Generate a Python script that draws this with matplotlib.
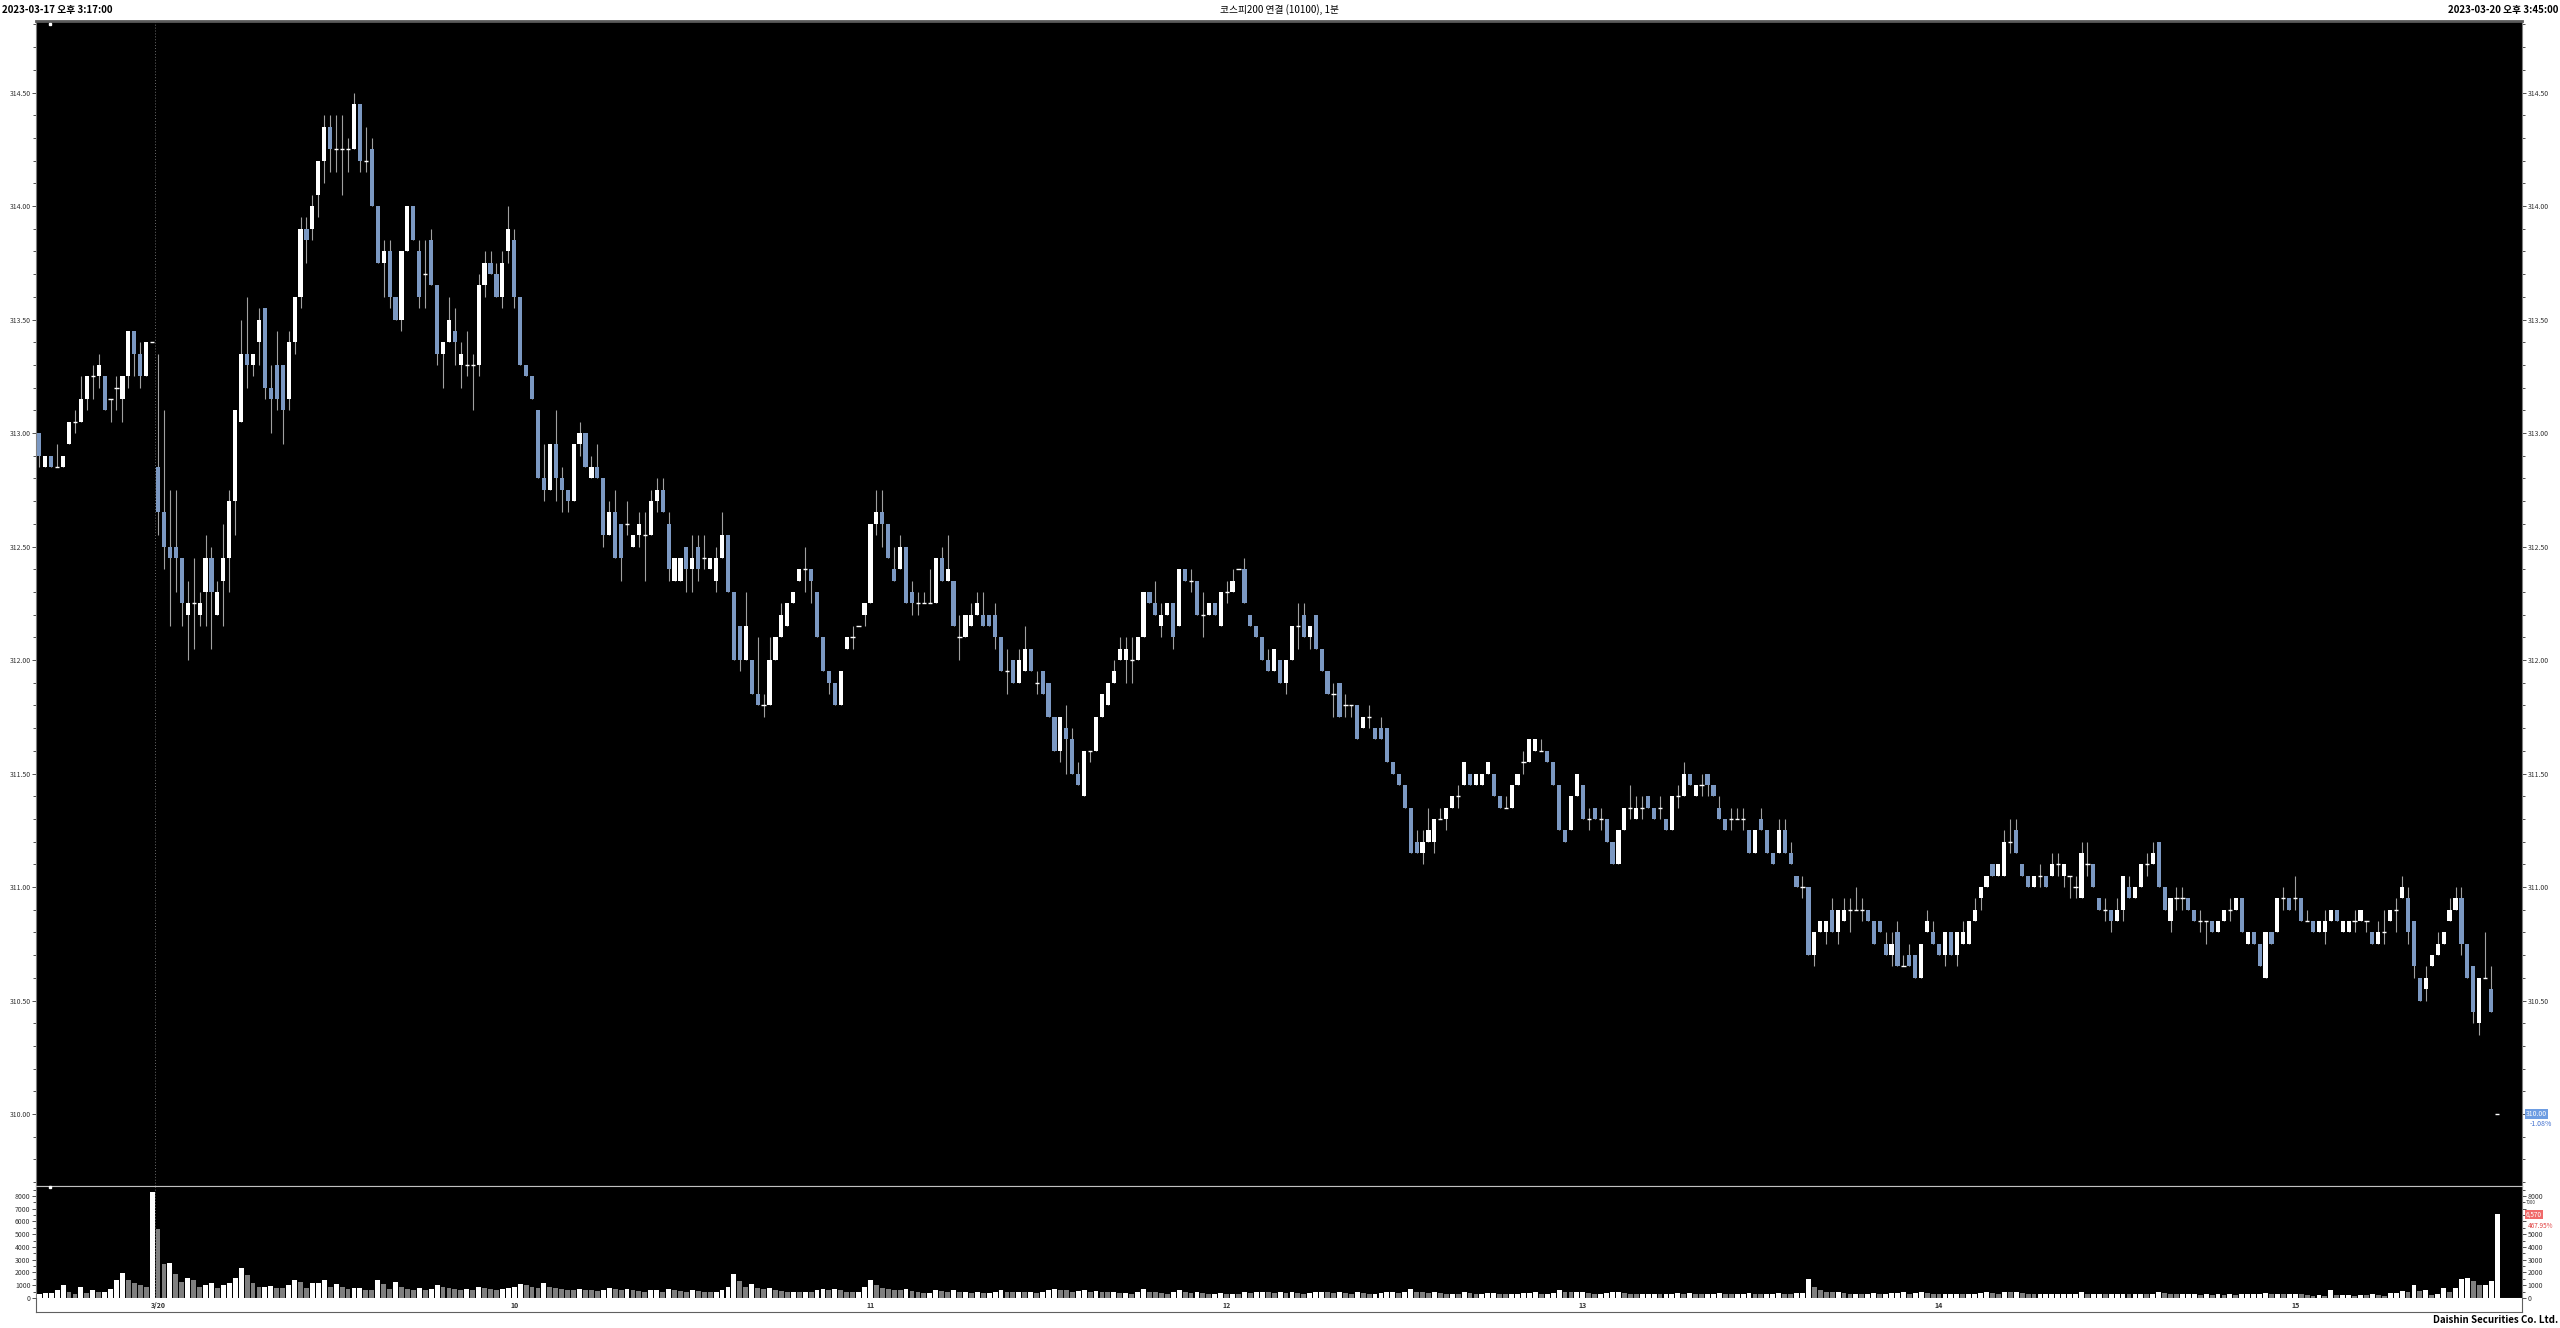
#!/usr/bin/env python3

import matplotlib
matplotlib.use('Agg')
import matplotlib.pyplot as plt
import matplotlib.transforms as mtransforms
from matplotlib.ticker import MultipleLocator, FormatStrFormatter

plt.rcParams['font.family'] = ['Noto Sans CJK KR', 'DejaVu Sans']

# header / footer text
left_stamp = '2023-03-17 오후 3:17:00'
right_stamp = '2023-03-20 오후 3:45:00'
title = '코스피200 연결 (10100), 1분'
footer = 'Daishin Securities Co. Ltd.'

# date strip labels (candle index of the label, text)
date_ticks = [20, 80, 140, 200, 260, 320, 380]
date_labels = ['3/20', '10', '11', '12', '13', '14', '15']

# 1-minute bars, 3/17 15:17 .. 3/20 15:45
opens = [
    313.00, 312.85, 312.90, 312.85, 312.85, 312.95, 313.05, 313.05, 313.15, 313.25,
    313.25, 313.25, 313.15, 313.20, 313.15, 313.25, 313.45, 313.35, 313.25, 313.40,
    312.85, 312.65, 312.50, 312.50, 312.45, 312.20, 312.25, 312.20, 312.30, 312.45,
    312.20, 312.35, 312.45, 312.70, 313.05, 313.35, 313.30, 313.40, 313.55, 313.20,
    313.30, 313.30, 313.15, 313.40, 313.60, 313.90, 313.90, 314.05, 314.20, 314.35,
    314.25, 314.25, 314.25, 314.25, 314.45, 314.20, 314.25, 314.00, 313.75, 313.80,
    313.60, 313.50, 313.80, 314.00, 313.80, 313.70, 313.85, 313.65, 313.35, 313.40,
    313.45, 313.30, 313.30, 313.30, 313.30, 313.65, 313.75, 313.70, 313.60, 313.80,
    313.85, 313.60, 313.30, 313.25, 313.10, 312.80, 312.75, 312.95, 312.80, 312.75,
    312.70, 312.95, 313.00, 312.80, 312.85, 312.80, 312.55, 312.65, 312.60, 312.60,
    312.50, 312.55, 312.55, 312.55, 312.70, 312.75, 312.60, 312.35, 312.35, 312.50,
    312.40, 312.50, 312.45, 312.40, 312.35, 312.45, 312.55, 312.30, 312.15, 312.00,
    312.00, 311.85, 311.80, 311.80, 312.00, 312.10, 312.15, 312.25, 312.35, 312.40,
    312.40, 312.30, 312.10, 311.95, 311.90, 311.80, 312.05, 312.10, 312.15, 312.20,
    312.25, 312.60, 312.65, 312.60, 312.40, 312.40, 312.50, 312.30, 312.25, 312.25,
    312.25, 312.25, 312.45, 312.35, 312.35, 312.10, 312.10, 312.15, 312.20, 312.20,
    312.20, 312.20, 312.10, 311.95, 312.00, 311.90, 311.95, 312.05, 311.90, 311.95,
    311.90, 311.75, 311.60, 311.70, 311.65, 311.50, 311.40, 311.60, 311.60, 311.75,
    311.80, 311.90, 312.00, 312.00, 312.00, 312.00, 312.10, 312.30, 312.25, 312.15,
    312.20, 312.25, 312.15, 312.40, 312.35, 312.35, 312.20, 312.20, 312.25, 312.15,
    312.30, 312.30, 312.40, 312.40, 312.20, 312.15, 312.10, 312.00, 311.95, 312.00,
    311.90, 312.00, 312.15, 312.20, 312.10, 312.20, 312.05, 311.95, 311.85, 311.90,
    311.80, 311.80, 311.80, 311.70, 311.75, 311.70, 311.70, 311.70, 311.55, 311.50,
    311.45, 311.35, 311.20, 311.15, 311.20, 311.20, 311.30, 311.30, 311.35, 311.40,
    311.45, 311.50, 311.45, 311.45, 311.50, 311.50, 311.40, 311.35, 311.35, 311.45,
    311.55, 311.55, 311.60, 311.60, 311.60, 311.55, 311.45, 311.25, 311.25, 311.40,
    311.45, 311.30, 311.35, 311.30, 311.30, 311.20, 311.10, 311.25, 311.35, 311.30,
    311.35, 311.40, 311.35, 311.35, 311.30, 311.25, 311.40, 311.40, 311.50, 311.40,
    311.45, 311.50, 311.45, 311.35, 311.30, 311.30, 311.30, 311.30, 311.25, 311.15,
    311.30, 311.25, 311.15, 311.15, 311.25, 311.15, 311.05, 311.00, 311.00, 310.70,
    310.80, 310.80, 310.90, 310.80, 310.85, 310.90, 310.90, 310.90, 310.90, 310.85,
    310.85, 310.75, 310.70, 310.80, 310.65, 310.70, 310.70, 310.60, 310.80, 310.80,
    310.75, 310.70, 310.80, 310.70, 310.75, 310.75, 310.85, 310.95, 311.00, 311.10,
    311.05, 311.05, 311.20, 311.25, 311.10, 311.05, 311.00, 311.05, 311.05, 311.05,
    311.10, 311.05, 311.05, 311.00, 310.95, 311.10, 311.10, 310.95, 310.90, 310.90,
    310.85, 310.90, 311.00, 310.95, 311.00, 311.10, 311.10, 311.20, 311.00, 310.85,
    310.95, 310.95, 310.95, 310.90, 310.85, 310.85, 310.85, 310.80, 310.85, 310.90,
    310.90, 310.95, 310.75, 310.80, 310.75, 310.60, 310.80, 310.80, 310.95, 310.95,
    310.95, 310.95, 310.85, 310.85, 310.80, 310.80, 310.85, 310.90, 310.80, 310.80,
    310.85, 310.85, 310.85, 310.80, 310.75, 310.80, 310.85, 310.90, 310.95, 310.95,
    310.85, 310.60, 310.55, 310.65, 310.70, 310.75, 310.85, 310.90, 310.95, 310.75,
    310.65, 310.40, 310.60, 310.55, 310.00,
]
highs = [
    313.00, 312.90, 312.90, 312.95, 312.90, 313.05, 313.10, 313.25, 313.25, 313.30,
    313.35, 313.25, 313.15, 313.25, 313.25, 313.45, 313.45, 313.40, 313.40, 313.40,
    313.35, 313.10, 312.75, 312.75, 312.45, 312.35, 312.45, 312.30, 312.55, 312.50,
    312.35, 312.60, 312.75, 313.10, 313.50, 313.60, 313.35, 313.55, 313.55, 313.30,
    313.45, 313.30, 313.45, 313.60, 313.95, 313.95, 314.05, 314.20, 314.40, 314.40,
    314.40, 314.40, 314.30, 314.50, 314.45, 314.35, 314.30, 314.00, 313.85, 313.85,
    313.60, 313.80, 314.00, 314.00, 313.85, 313.85, 313.90, 313.65, 313.40, 313.60,
    313.55, 313.40, 313.45, 313.35, 313.70, 313.80, 313.80, 313.75, 313.80, 314.00,
    313.90, 313.60, 313.30, 313.25, 313.10, 312.95, 312.95, 313.10, 312.85, 312.75,
    312.95, 313.05, 313.00, 312.90, 312.95, 312.80, 312.70, 312.75, 312.60, 312.70,
    312.55, 312.65, 312.65, 312.75, 312.80, 312.80, 312.65, 312.45, 312.45, 312.50,
    312.55, 312.55, 312.55, 312.45, 312.50, 312.65, 312.55, 312.30, 312.15, 312.30,
    312.00, 312.10, 311.85, 312.10, 312.10, 312.25, 312.25, 312.30, 312.40, 312.50,
    312.40, 312.30, 312.10, 311.95, 311.90, 311.95, 312.10, 312.15, 312.15, 312.25,
    312.60, 312.75, 312.75, 312.60, 312.50, 312.55, 312.50, 312.35, 312.30, 312.30,
    312.40, 312.45, 312.50, 312.55, 312.35, 312.20, 312.20, 312.25, 312.30, 312.30,
    312.20, 312.25, 312.10, 312.05, 312.00, 312.05, 312.15, 312.05, 311.95, 311.95,
    311.90, 311.75, 311.75, 311.80, 311.70, 311.55, 311.60, 311.60, 311.75, 311.85,
    311.90, 312.00, 312.10, 312.10, 312.10, 312.10, 312.30, 312.30, 312.35, 312.25,
    312.25, 312.25, 312.40, 312.40, 312.40, 312.35, 312.30, 312.25, 312.25, 312.30,
    312.35, 312.40, 312.40, 312.45, 312.20, 312.15, 312.10, 312.05, 312.05, 312.00,
    312.00, 312.15, 312.25, 312.25, 312.15, 312.20, 312.05, 311.95, 311.90, 311.90,
    311.85, 311.80, 311.80, 311.75, 311.80, 311.70, 311.75, 311.70, 311.55, 311.50,
    311.45, 311.35, 311.25, 311.25, 311.35, 311.30, 311.35, 311.35, 311.40, 311.45,
    311.55, 311.50, 311.50, 311.50, 311.55, 311.50, 311.40, 311.40, 311.45, 311.50,
    311.60, 311.65, 311.65, 311.65, 311.60, 311.55, 311.45, 311.25, 311.40, 311.50,
    311.45, 311.35, 311.35, 311.35, 311.30, 311.20, 311.25, 311.35, 311.45, 311.40,
    311.40, 311.40, 311.35, 311.40, 311.30, 311.40, 311.45, 311.55, 311.50, 311.45,
    311.50, 311.50, 311.45, 311.40, 311.30, 311.35, 311.35, 311.35, 311.25, 311.25,
    311.35, 311.25, 311.15, 311.30, 311.30, 311.20, 311.05, 311.05, 311.00, 310.80,
    310.85, 310.85, 310.95, 310.90, 310.95, 310.95, 311.00, 310.95, 310.90, 310.85,
    310.85, 310.80, 310.80, 310.85, 310.70, 310.75, 310.70, 310.75, 310.90, 310.85,
    310.75, 310.80, 310.80, 310.80, 310.85, 310.85, 310.95, 311.00, 311.05, 311.10,
    311.10, 311.25, 311.30, 311.30, 311.10, 311.05, 311.05, 311.10, 311.05, 311.15,
    311.15, 311.10, 311.05, 311.05, 311.20, 311.20, 311.10, 310.95, 310.95, 310.90,
    310.95, 311.05, 311.05, 311.00, 311.10, 311.15, 311.20, 311.20, 311.00, 310.95,
    311.00, 311.00, 310.95, 310.90, 310.90, 310.85, 310.85, 310.85, 310.90, 310.95,
    310.95, 310.95, 310.80, 310.80, 310.75, 310.80, 310.80, 310.95, 311.00, 310.95,
    311.05, 310.95, 310.90, 310.85, 310.85, 310.90, 310.90, 310.90, 310.85, 310.85,
    310.90, 310.90, 310.85, 310.80, 310.85, 310.90, 310.90, 310.95, 311.05, 311.00,
    310.85, 310.60, 310.65, 310.70, 310.80, 310.80, 310.95, 311.00, 311.00, 310.75,
    310.65, 310.60, 310.80, 310.65, 310.00,
]
lows = [
    312.85, 312.85, 312.85, 312.85, 312.85, 312.95, 313.00, 313.05, 313.10, 313.15,
    313.20, 313.10, 313.05, 313.10, 313.05, 313.20, 313.25, 313.20, 313.25, 313.40,
    312.55, 312.40, 312.15, 312.30, 312.15, 312.00, 312.05, 312.15, 312.15, 312.05,
    312.20, 312.15, 312.30, 312.55, 313.05, 313.20, 313.25, 313.30, 313.15, 313.00,
    313.10, 312.95, 313.10, 313.35, 313.55, 313.75, 313.85, 313.95, 314.10, 314.15,
    314.15, 314.05, 314.15, 314.25, 314.15, 314.15, 314.00, 313.75, 313.60, 313.55,
    313.50, 313.45, 313.80, 313.85, 313.55, 313.55, 313.65, 313.30, 313.20, 313.40,
    313.30, 313.20, 313.25, 313.10, 313.25, 313.60, 313.70, 313.60, 313.55, 313.75,
    313.55, 313.30, 313.25, 313.15, 312.80, 312.70, 312.75, 312.70, 312.65, 312.65,
    312.70, 312.90, 312.85, 312.80, 312.80, 312.50, 312.55, 312.45, 312.35, 312.55,
    312.50, 312.50, 312.35, 312.55, 312.65, 312.65, 312.35, 312.35, 312.35, 312.30,
    312.30, 312.35, 312.40, 312.40, 312.30, 312.45, 312.30, 312.00, 311.95, 312.00,
    311.85, 311.80, 311.75, 311.80, 312.00, 312.10, 312.15, 312.25, 312.35, 312.30,
    312.25, 312.10, 311.95, 311.85, 311.80, 311.80, 312.05, 312.05, 312.15, 312.15,
    312.25, 312.55, 312.50, 312.45, 312.35, 312.40, 312.25, 312.20, 312.20, 312.25,
    312.25, 312.25, 312.35, 312.35, 312.15, 312.00, 312.10, 312.15, 312.20, 312.15,
    312.15, 312.05, 311.95, 311.85, 311.90, 311.90, 311.95, 311.95, 311.85, 311.85,
    311.75, 311.60, 311.55, 311.50, 311.50, 311.45, 311.40, 311.55, 311.60, 311.75,
    311.80, 311.90, 312.00, 311.90, 311.90, 312.00, 312.10, 312.25, 312.20, 312.10,
    312.20, 312.05, 312.15, 312.35, 312.30, 312.20, 312.10, 312.20, 312.20, 312.15,
    312.25, 312.30, 312.40, 312.25, 312.15, 312.10, 312.00, 311.95, 311.95, 311.90,
    311.85, 312.00, 312.05, 312.10, 312.05, 312.05, 311.95, 311.85, 311.75, 311.75,
    311.75, 311.75, 311.65, 311.70, 311.70, 311.65, 311.65, 311.55, 311.50, 311.45,
    311.35, 311.15, 311.15, 311.10, 311.20, 311.15, 311.30, 311.25, 311.35, 311.35,
    311.45, 311.45, 311.45, 311.45, 311.50, 311.40, 311.35, 311.35, 311.35, 311.45,
    311.50, 311.55, 311.60, 311.60, 311.55, 311.45, 311.25, 311.20, 311.25, 311.40,
    311.30, 311.25, 311.30, 311.25, 311.20, 311.10, 311.10, 311.25, 311.30, 311.30,
    311.30, 311.35, 311.30, 311.30, 311.25, 311.25, 311.35, 311.40, 311.45, 311.40,
    311.40, 311.40, 311.40, 311.30, 311.25, 311.25, 311.30, 311.25, 311.15, 311.15,
    311.25, 311.15, 311.10, 311.15, 311.15, 311.10, 311.00, 310.95, 310.70, 310.65,
    310.80, 310.75, 310.80, 310.75, 310.85, 310.80, 310.90, 310.85, 310.85, 310.75,
    310.80, 310.70, 310.65, 310.65, 310.65, 310.65, 310.60, 310.60, 310.80, 310.75,
    310.70, 310.65, 310.70, 310.65, 310.75, 310.75, 310.85, 310.90, 311.00, 311.05,
    311.05, 311.05, 311.15, 311.15, 311.05, 311.00, 311.00, 311.00, 311.00, 311.05,
    311.05, 311.00, 310.95, 310.95, 310.95, 311.05, 311.00, 310.90, 310.85, 310.80,
    310.85, 310.85, 310.95, 310.95, 311.00, 311.05, 311.10, 311.00, 310.90, 310.80,
    310.90, 310.90, 310.90, 310.85, 310.80, 310.75, 310.80, 310.80, 310.85, 310.85,
    310.90, 310.80, 310.75, 310.75, 310.65, 310.60, 310.75, 310.80, 310.90, 310.90,
    310.90, 310.85, 310.85, 310.80, 310.80, 310.75, 310.85, 310.85, 310.80, 310.80,
    310.80, 310.85, 310.80, 310.75, 310.75, 310.75, 310.85, 310.80, 310.95, 310.75,
    310.60, 310.50, 310.50, 310.65, 310.70, 310.75, 310.85, 310.90, 310.70, 310.60,
    310.40, 310.35, 310.60, 310.45, 310.00,
]
closes = [
    312.90, 312.90, 312.85, 312.85, 312.90, 313.05, 313.05, 313.15, 313.25, 313.25,
    313.30, 313.10, 313.15, 313.20, 313.25, 313.45, 313.35, 313.25, 313.40, 313.40,
    312.65, 312.50, 312.45, 312.45, 312.25, 312.25, 312.25, 312.25, 312.45, 312.30,
    312.30, 312.45, 312.70, 313.10, 313.35, 313.30, 313.35, 313.50, 313.20, 313.15,
    313.15, 313.10, 313.40, 313.60, 313.90, 313.85, 314.00, 314.20, 314.35, 314.25,
    314.25, 314.25, 314.25, 314.45, 314.20, 314.20, 314.00, 313.75, 313.80, 313.60,
    313.50, 313.80, 314.00, 313.85, 313.60, 313.70, 313.65, 313.35, 313.40, 313.50,
    313.40, 313.35, 313.30, 313.30, 313.65, 313.75, 313.70, 313.60, 313.75, 313.90,
    313.60, 313.30, 313.25, 313.15, 312.80, 312.75, 312.95, 312.80, 312.75, 312.70,
    312.95, 313.00, 312.85, 312.85, 312.80, 312.55, 312.65, 312.45, 312.45, 312.60,
    312.55, 312.60, 312.55, 312.70, 312.75, 312.65, 312.40, 312.45, 312.45, 312.40,
    312.45, 312.40, 312.45, 312.45, 312.45, 312.55, 312.30, 312.00, 312.00, 312.15,
    311.85, 311.80, 311.80, 312.00, 312.10, 312.20, 312.25, 312.30, 312.40, 312.40,
    312.35, 312.10, 311.95, 311.90, 311.80, 311.95, 312.10, 312.10, 312.15, 312.25,
    312.60, 312.65, 312.60, 312.45, 312.35, 312.50, 312.25, 312.25, 312.25, 312.25,
    312.25, 312.45, 312.35, 312.40, 312.15, 312.10, 312.20, 312.20, 312.25, 312.15,
    312.15, 312.10, 311.95, 311.95, 311.90, 312.00, 312.05, 311.95, 311.90, 311.85,
    311.75, 311.60, 311.75, 311.65, 311.50, 311.45, 311.60, 311.60, 311.75, 311.85,
    311.90, 311.95, 312.05, 312.05, 312.00, 312.10, 312.30, 312.25, 312.20, 312.20,
    312.25, 312.10, 312.40, 312.35, 312.35, 312.20, 312.20, 312.25, 312.20, 312.30,
    312.30, 312.35, 312.40, 312.25, 312.15, 312.10, 312.00, 311.95, 312.05, 311.90,
    312.00, 312.15, 312.15, 312.10, 312.15, 312.05, 311.95, 311.85, 311.85, 311.75,
    311.80, 311.80, 311.65, 311.75, 311.75, 311.65, 311.65, 311.55, 311.50, 311.45,
    311.35, 311.15, 311.15, 311.20, 311.25, 311.30, 311.30, 311.35, 311.40, 311.40,
    311.55, 311.45, 311.50, 311.50, 311.55, 311.40, 311.35, 311.35, 311.45, 311.50,
    311.55, 311.65, 311.65, 311.60, 311.55, 311.45, 311.25, 311.20, 311.40, 311.50,
    311.30, 311.30, 311.30, 311.30, 311.20, 311.10, 311.25, 311.35, 311.35, 311.35,
    311.35, 311.35, 311.30, 311.35, 311.25, 311.40, 311.40, 311.50, 311.45, 311.45,
    311.45, 311.45, 311.40, 311.30, 311.25, 311.30, 311.30, 311.30, 311.15, 311.25,
    311.25, 311.15, 311.10, 311.25, 311.15, 311.10, 311.00, 311.00, 310.70, 310.80,
    310.85, 310.85, 310.80, 310.90, 310.90, 310.90, 310.90, 310.90, 310.85, 310.75,
    310.80, 310.70, 310.75, 310.65, 310.65, 310.65, 310.60, 310.75, 310.85, 310.75,
    310.70, 310.80, 310.70, 310.80, 310.80, 310.85, 310.90, 311.00, 311.05, 311.05,
    311.10, 311.20, 311.20, 311.15, 311.05, 311.00, 311.05, 311.05, 311.00, 311.10,
    311.10, 311.10, 311.05, 311.00, 311.15, 311.10, 311.00, 310.90, 310.90, 310.85,
    310.90, 311.05, 310.95, 311.00, 311.10, 311.10, 311.15, 311.00, 310.90, 310.95,
    310.95, 310.95, 310.90, 310.85, 310.85, 310.85, 310.80, 310.85, 310.90, 310.90,
    310.95, 310.80, 310.80, 310.75, 310.65, 310.80, 310.75, 310.95, 310.95, 310.90,
    310.95, 310.85, 310.85, 310.80, 310.85, 310.85, 310.90, 310.85, 310.85, 310.85,
    310.85, 310.90, 310.85, 310.75, 310.80, 310.80, 310.90, 310.90, 311.00, 310.80,
    310.65, 310.50, 310.60, 310.70, 310.75, 310.80, 310.90, 310.95, 310.75, 310.60,
    310.45, 310.60, 310.60, 310.45, 310.00,
]
volumes = [
    320, 400, 400, 600, 980, 480, 320, 850, 400, 600,
    450, 500, 740, 1450, 1930, 1380, 1140, 980, 850, 8280,
    5370, 2700, 2780, 1910, 1240, 1590, 1450, 870, 1030, 1190,
    770, 1030, 1140, 1530, 2360, 1830, 1190, 870, 870, 930,
    820, 790, 1030, 1450, 1290, 820, 1140, 1190, 1380, 870,
    1080, 870, 710, 820, 820, 660, 610, 1450, 1110, 740,
    1270, 900, 700, 650, 800, 600, 700, 1000, 900, 800,
    700, 650, 700, 600, 900, 800, 700, 650, 700, 800,
    900, 1100, 1000, 900, 800, 1200, 900, 800, 700, 650,
    600, 700, 650, 600, 550, 600, 800, 700, 650, 700,
    600, 550, 500, 600, 650, 500, 700, 600, 550, 500,
    600, 550, 500, 450, 500, 600, 900, 1900, 1300, 900,
    1100, 800, 700, 800, 600, 550, 500, 500, 450, 500,
    450, 600, 700, 650, 700, 600, 500, 450, 500, 900,
    1400, 1000, 800, 700, 650, 600, 700, 550, 450, 400,
    400, 600, 550, 500, 600, 450, 500, 400, 450, 400,
    400, 450, 600, 500, 450, 500, 450, 500, 400, 450,
    600, 700, 650, 600, 500, 550, 650, 500, 550, 500,
    450, 450, 400, 400, 350, 450, 700, 500, 450, 400,
    350, 450, 600, 500, 400, 450, 400, 350, 350, 400,
    350, 350, 300, 450, 400, 450, 500, 450, 400, 450,
    400, 450, 400, 350, 400, 450, 500, 450, 400, 450,
    400, 350, 450, 400, 350, 350, 400, 450, 450, 400,
    500, 700, 500, 450, 400, 450, 400, 350, 350, 300,
    450, 400, 350, 350, 400, 400, 350, 300, 350, 350,
    400, 400, 450, 350, 350, 400, 600, 500, 450, 450,
    500, 400, 350, 350, 400, 450, 450, 400, 350, 300,
    300, 300, 350, 300, 350, 350, 400, 350, 400, 350,
    300, 300, 300, 400, 350, 300, 300, 300, 400, 350,
    300, 350, 350, 400, 350, 300, 400, 400, 1500, 900,
    600, 500, 450, 500, 400, 350, 350, 300, 350, 400,
    350, 350, 400, 400, 450, 350, 400, 500, 400, 350,
    300, 350, 350, 350, 300, 300, 350, 400, 450, 400,
    350, 500, 450, 450, 400, 350, 300, 300, 300, 300,
    300, 300, 300, 300, 450, 350, 350, 350, 300, 300,
    300, 350, 300, 300, 350, 300, 300, 450, 400, 350,
    300, 300, 300, 300, 250, 300, 250, 300, 250, 300,
    250, 300, 300, 300, 300, 400, 300, 350, 300, 300,
    350, 340, 270, 150, 230, 130, 610, 230, 230, 260,
    130, 270, 230, 290, 230, 150, 370, 420, 550, 450,
    1000, 550, 600, 230, 340, 800, 480, 800, 1460, 1530,
    1320, 1030, 1030, 1370, 6570,
]

W, H = 2560, 1328
UP = '#ffffff'
DOWN = '#7b98c2'
WICK = '#a0a0a0'
FRAME = '#808080'


def fx(px):
    return px / W


def fy(py):
    return 1 - py / H


def style_axis(ax):
    ax.set_facecolor('black')
    for side in ax.spines.values():
        side.set_color(FRAME)
        side.set_linewidth(0.8)
    ax.set_xticks([])
    ax.tick_params(axis='y', which='both', direction='out', left=True, right=True,
                   labelleft=True, labelright=True, labelsize=5, colors='#333333',
                   width=0.6, pad=1)
    ax.tick_params(axis='y', which='major', length=3)
    ax.tick_params(axis='y', which='minor', length=2)
    ax.set_xlim(-0.56, 418.2)


def draw_candles(ax):
    x = list(range(len(closes)))
    ax.vlines(x, lows, highs, color=WICK, linewidth=0.8, zorder=2)

    for i in x:
        o, c = opens[i], closes[i]
        if c == o:
            ax.hlines(c, i - 0.36, i + 0.36, color=UP, linewidth=1.0, zorder=3)
        else:
            ax.bar(i, abs(c - o), bottom=min(o, c), width=0.7,
                   color=UP if c > o else DOWN, linewidth=0, zorder=3)

    ax.axvline(19.5, color='#6a6a6a', linestyle=(0, (1, 2)), linewidth=0.7, zorder=1)
    ax.set_ylim(309.683, 314.815)
    ax.yaxis.set_major_locator(MultipleLocator(0.5))
    ax.yaxis.set_minor_locator(MultipleLocator(0.1))
    ax.yaxis.set_major_formatter(FormatStrFormatter('%.2f'))
    ax.spines['top'].set_linewidth(2)
    ax.spines['top'].set_color('#5a5a5a')
    ax.spines['bottom'].set_color('#c0c0c0')

    # small scroll marker in the top-left corner
    ax.plot([1.8], [314.80], marker='s', markersize=1.6, color='white', zorder=4,
            clip_on=False)

    # current price tag on the right edge
    tr = mtransforms.blended_transform_factory(ax.transAxes, ax.transData)
    ax.text(1.0016, closes[-1], '%.2f' % closes[-1], transform=tr, ha='left', va='center',
            fontsize=5, color='white', zorder=5,
            bbox=dict(boxstyle='square,pad=0.12', fc='#6e9de2', ec='none'))
    ax.text(1.0075, closes[-1] - 0.045, '-1.08%', transform=tr, ha='center', va='center',
            fontsize=5, color='#3f6fcf')


def draw_volume(ax):
    x = list(range(len(volumes)))
    colors = [UP] + [UP if volumes[i] >= volumes[i - 1] else '#7f7f7f'
                     for i in range(1, len(volumes))]
    ax.bar(x, volumes, width=0.82, color=colors, linewidth=0, zorder=3)
    ax.axvline(19.5, color='#6a6a6a', linestyle=(0, (1, 2)), linewidth=0.7, zorder=1)
    ax.set_ylim(0, 8780)
    ax.yaxis.set_major_locator(MultipleLocator(1000))
    ax.yaxis.set_minor_locator(MultipleLocator(500))
    ax.yaxis.set_major_formatter(FormatStrFormatter('%d'))
    ax.spines['top'].set_color('#c0c0c0')
    ax.plot([1.8], [8700], marker='s', markersize=1.6, color='white', zorder=4,
            clip_on=False)

    # the last-volume tag covers the right-hand 6000/7000 labels in the original
    ax.figure.canvas.draw()
    for tick in ax.yaxis.get_major_ticks():
        if abs(tick.get_loc() - 6000) < 1 or abs(tick.get_loc() - 7000) < 1:
            tick.label2.set_visible(False)

    tr = mtransforms.blended_transform_factory(ax.transAxes, ax.transData)
    ax.text(1.0016, volumes[-1], '{:,}'.format(volumes[-1]), transform=tr, ha='left',
            va='center', fontsize=4.6, color='white', zorder=5,
            bbox=dict(boxstyle='square,pad=0.1', fc='#f06a6a', ec='none'))
    ax.text(1.0075, volumes[-1] - 900, '467.95%', transform=tr, ha='center', va='center',
            fontsize=4.6, color='#e04040', zorder=5)
    # the top edge of the 7000 label still peeks out above the tag
    ax.text(1.0016, 7300, '7000', transform=tr, ha='left', va='bottom', fontsize=3.2,
            color='#333333')


def draw_dates(fig):
    ax = fig.add_axes([fx(36), fy(1312), fx(2522 - 36), (1312 - 1298) / H])
    ax.set_xlim(-0.56, 418.2)
    ax.set_ylim(0, 1)
    ax.set_xticks([])
    ax.set_yticks([])
    for side in ax.spines.values():
        side.set_color('#606060')
        side.set_linewidth(0.8)
    ax.spines['top'].set_visible(False)
    for pos, label in zip(date_ticks, date_labels):
        ax.text(pos, 0.45, label, ha='center', va='center', fontsize=5,
                fontweight='bold', color='#333333')


def main():
    fig = plt.figure(figsize=(W / 100, H / 100), dpi=100, facecolor='white')

    ax = fig.add_axes([fx(36), fy(1186), fx(2522 - 36), (1186 - 21) / H])
    axv = fig.add_axes([fx(36), fy(1298), fx(2522 - 36), (1298 - 1186) / H])
    style_axis(ax)
    style_axis(axv)
    draw_candles(ax)
    draw_volume(axv)
    draw_dates(fig)

    # header and footer
    fig.text(fx(2), fy(10), left_stamp, ha='left', va='center', fontsize=7, fontweight='bold')
    fig.text(0.5, fy(10), title, ha='center', va='center', fontsize=7)
    fig.text(fx(2558), fy(10), right_stamp, ha='right', va='center', fontsize=7,
             fontweight='bold')
    fig.text(fx(2558), fy(1320), footer, ha='right', va='center', fontsize=7,
             fontweight='bold')

    fig.savefig('out.png', dpi=100, facecolor='white')


if __name__ == '__main__':
    main()
